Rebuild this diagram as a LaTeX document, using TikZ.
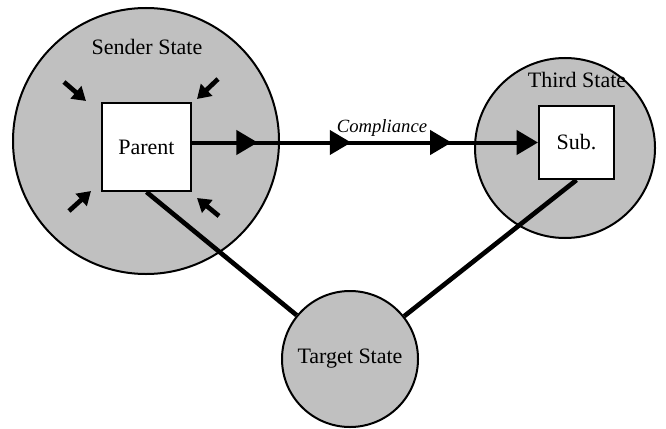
\documentclass[tikz,border=0pt]{standalone}
\usepackage{fontspec}
\setmainfont{Liberation Serif}
\usetikzlibrary{arrows.meta,decorations.markings}
\definecolor{stategray}{RGB}{192,192,192}

\tikzset{
  country/.style={circle, draw, fill=stategray, line width=1.5pt, inner sep=0pt},
  firm/.style={rectangle, draw, fill=white, line width=1.5pt, inner sep=0pt},
  tie/.style={line width=3.5pt},
  push/.style={line width=3.5pt, -{Triangle[length=10pt, width=12pt]}},
  bigtip/.tip={Triangle[length=16pt, width=18pt]},
  flow/.style={line width=3pt, -{bigtip},
    postaction={decorate, decoration={markings,
      mark=at position 0.19 with {\arrow{bigtip}},
      mark=at position 0.46 with {\arrow{bigtip}},
      mark=at position 0.75 with {\arrow{bigtip}}}}}
}

\begin{document}
\begin{tikzpicture}[x=0.75pt, y=-0.75pt, font=\fontsize{16.5}{19}\selectfont]
    \useasboundingbox (0,0) rectangle (666,428);
    % the three states
    \node[country, minimum size=199.5pt] (sender) at (146,141) {};
    \node[country, minimum size=135pt] (third) at (565,148) {};
    \node[country, minimum size=102pt] (target) at (350,359) {Target State};
    \node (sendername) at (147,47) {Sender State};
    \node (thirdname) at (577,80) {Third State};
    % firms
    \node[firm, minimum width=66.75pt, minimum height=66pt] (parent) at (146.5,147) {Parent};
    \node[firm, minimum width=56.25pt, minimum height=54.75pt] (sub) at (576.5,142.5) {Sub.};
    % ties to the target
    \draw[tie] (parent.south) -- (target);
    \draw[tie] (sub.south) -- (target);
    % compliance
    \draw[flow] (parent.east |- sub.west) -- (sub.west);
    \node[font=\fontsize{14}{16}\selectfont\itshape] (compliance) at (382,128) {Compliance};
    % pressure on the parent
    \coordinate (nwtail) at (64,82);   \coordinate (nwtip) at (86,101);
    \coordinate (netail) at (218,79);  \coordinate (netip) at (197,99);
    \coordinate (swtail) at (69,211);  \coordinate (swtip) at (91,191);
    \coordinate (setail) at (219,216); \coordinate (setip) at (197,198);
    \draw[push] (nwtail) -- (nwtip);
    \draw[push] (netail) -- (netip);
    \draw[push] (swtail) -- (swtip);
    \draw[push] (setail) -- (setip);
\end{tikzpicture}
\end{document}
